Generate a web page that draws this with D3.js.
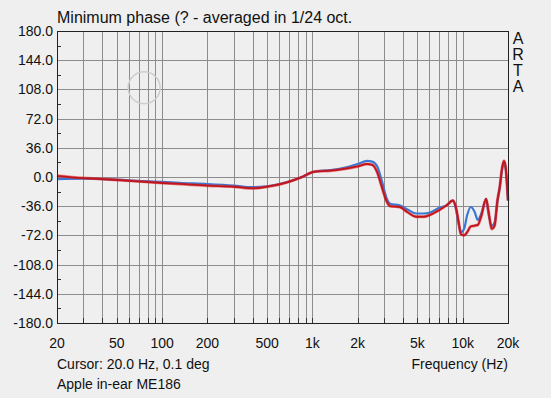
<!DOCTYPE html>
<html>
<head>
<meta charset="utf-8">
<script src="https://cdn.jsdelivr.net/npm/d3@7"></script>
<style>
  html, body { margin: 0; padding: 0; background: #efefef; }
  svg { display: block; font-family: "Liberation Sans", Arial, sans-serif; }
</style>
</head>
<body>
<div id="chart"></div>
<script>
// frequency points (Hz) shared by both traces
const freqs = [20, 30, 40, 50, 64, 100, 130, 200, 300, 400, 500, 640, 840, 1030, 1320, 1600,
  2000, 2310, 2500, 2700, 2900, 3100, 3300, 3800, 4300, 4900, 5500, 6000, 7000, 7800, 8600,
  9000, 9400, 9700, 10200, 10700, 11300, 12000, 12600, 13300, 14300, 14800, 15600, 16300,
  17000, 17600, 18300, 18800, 19300, 20000];

// phase (deg), blue trace
const bluePhase = [-2.5, -2, -2.5, -3.3, -4.5, -6, -7.2, -8.6, -10.5, -12.5, -11.5, -7.5, -0.5, 6.5, 8.5, 11,
  16, 20, 19, 13, -5, -25, -33, -35, -40, -45, -45, -44, -38, -35, -29,
  -39, -58, -68, -64, -47, -37, -43, -53, -45, -27, -44, -60, -56,
  -31, -14, 10, 18, 10, -29];

// phase (deg), red trace
const redPhase = [1.5, -1.3, -2.5, -3.7, -5, -7.4, -8.6, -10.7, -12, -14, -12, -8, -0.5, 6.5, 7.8, 9.8,
  13, 16, 15, 5.7, -12.8, -29, -36, -37, -43.5, -49, -49, -47, -40.6, -35, -29,
  -37, -56, -70, -72, -68, -61, -60, -59, -48, -27, -41, -64, -60,
  -29, -13, 12, 20, 12, -29];

const yTicks = [180, 144, 108, 72, 36, 0, -36, -72, -108, -144, -180];
const xGrid = [30, 40, 50, 60, 70, 80, 90, 100, 200, 300, 400, 500, 600, 700, 800, 900, 1000,
  2000, 3000, 4000, 5000, 6000, 7000, 8000, 9000, 10000];
const xLabels = [[20, '20'], [50, '50'], [100, '100'], [200, '200'], [500, '500'], [1000, '1k'],
  [2000, '2k'], [5000, '5k'], [10000, '10k'], [20000, '20k']];

const W = 551, H = 398;
const m = { left: 57, right: 508, top: 31, bottom: 323 };

const svg = d3.select('#chart').append('svg')
  .attr('width', W).attr('height', H);

svg.append('rect').attr('width', W).attr('height', H).attr('fill', '#efefef');

const x = d3.scaleLog().domain([20, 20000]).range([m.left, m.right]);
const y = d3.scaleLinear().domain([-180, 180]).range([m.bottom, m.top]);

// grid
svg.append('g').selectAll('line').data(xGrid).join('line')
  .attr('x1', d => Math.round(x(d)) + 0.5).attr('x2', d => Math.round(x(d)) + 0.5)
  .attr('y1', m.top).attr('y2', m.bottom)
  .attr('stroke', '#8c8c8c').attr('stroke-width', 1);

svg.append('g').selectAll('line').data(yTicks.slice(1, -1)).join('line')
  .attr('x1', m.left).attr('x2', m.right)
  .attr('y1', d => Math.round(y(d)) + 0.5).attr('y2', d => Math.round(y(d)) + 0.5)
  .attr('stroke', '#8c8c8c').attr('stroke-width', 1);

// faint cursor ring left in the screenshot
svg.append('circle')
  .attr('cx', x(76)).attr('cy', y(110))
  .attr('r', 16)
  .attr('fill', 'none').attr('stroke', '#cdcdcd').attr('stroke-width', 1.5);

// small ticks: left minor ticks and bottom ticks
const minorY = d3.range(-162, 180, 36);
svg.append('g').selectAll('line').data(minorY).join('line')
  .attr('x1', m.left).attr('x2', m.left + 4)
  .attr('y1', d => Math.round(y(d)) + 0.5).attr('y2', d => Math.round(y(d)) + 0.5)
  .attr('stroke', '#333');
svg.append('g').selectAll('line').data(xGrid).join('line')
  .attr('x1', d => Math.round(x(d)) + 0.5).attr('x2', d => Math.round(x(d)) + 0.5)
  .attr('y1', m.bottom - 5).attr('y2', m.bottom)
  .attr('stroke', '#333');

// traces
const line = d3.line()
  .x(d => x(d[0]))
  .y(d => y(d[1]))
  .curve(d3.curveMonotoneX);

svg.append('path')
  .datum(freqs.map((f, i) => [f, bluePhase[i]]))
  .attr('d', line)
  .attr('fill', 'none').attr('stroke', '#3a78d4').attr('stroke-width', 2.2);

svg.append('path')
  .datum(freqs.map((f, i) => [f, redPhase[i]]))
  .attr('d', line)
  .attr('fill', 'none').attr('stroke', '#e8282a').attr('stroke-width', 3).attr('opacity', 0.55);
svg.append('path')
  .datum(freqs.map((f, i) => [f, redPhase[i]]))
  .attr('d', line)
  .attr('fill', 'none').attr('stroke', '#c0151c').attr('stroke-width', 1.8);

// frame
svg.append('rect')
  .attr('x', m.left + 0.5).attr('y', m.top + 0.5)
  .attr('width', m.right - m.left).attr('height', m.bottom - m.top)
  .attr('fill', 'none').attr('stroke', '#222');

// y labels
svg.append('g').selectAll('text').data(yTicks).join('text')
  .attr('x', m.left - 4).attr('y', d => y(d) + 5)
  .attr('text-anchor', 'end').attr('font-size', 14).attr('fill', '#111')
  .text(d => d.toFixed(1));

// x labels
svg.append('g').selectAll('text').data(xLabels).join('text')
  .attr('x', d => x(d[0])).attr('y', 348)
  .attr('text-anchor', 'middle').attr('font-size', 14).attr('fill', '#111')
  .text(d => d[1]);

svg.append('text').attr('x', 57).attr('y', 23)
  .attr('font-size', 16).attr('fill', '#111')
  .text('Minimum phase (? - averaged in 1/24 oct.');

svg.append('g').selectAll('text').data(['A', 'R', 'T', 'A']).join('text')
  .attr('x', 518).attr('y', (d, i) => 44 + i * 16)
  .attr('text-anchor', 'middle').attr('font-size', 16).attr('fill', '#111')
  .text(d => d);

svg.append('text').attr('x', 57).attr('y', 369)
  .attr('font-size', 14).attr('fill', '#111')
  .text('Cursor: 20.0 Hz, 0.1 deg');

svg.append('text').attr('x', 508).attr('y', 369)
  .attr('text-anchor', 'end').attr('font-size', 14).attr('fill', '#111')
  .text('Frequency (Hz)');

svg.append('text').attr('x', 57).attr('y', 389)
  .attr('font-size', 14).attr('fill', '#111')
  .text('Apple in-ear ME186');
</script>
</body>
</html>
